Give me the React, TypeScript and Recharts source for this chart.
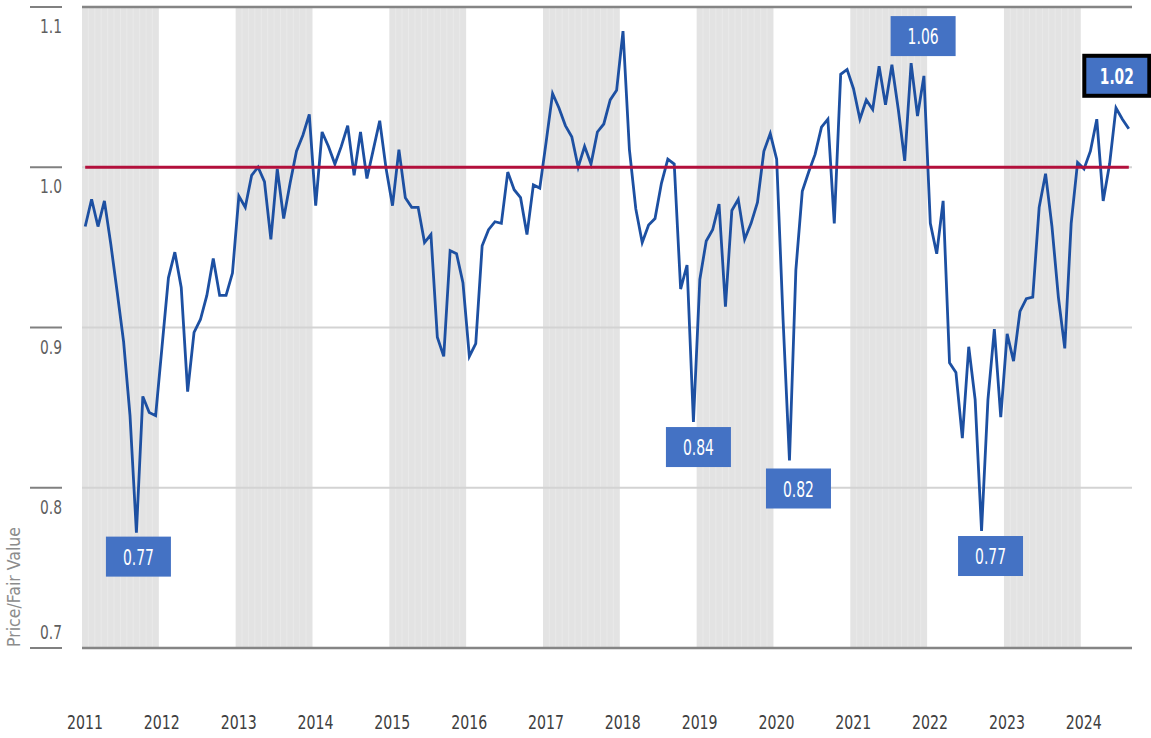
import {
  LineChart,
  Line,
  XAxis,
  YAxis,
  ReferenceArea,
  ReferenceLine,
  ReferenceDot,
} from "recharts";

const years = [2011, 2012, 2013, 2014, 2015, 2016, 2017, 2018, 2019, 2020, 2021, 2022, 2023, 2024];
const shadedYears = [2011, 2013, 2015, 2017, 2019, 2021, 2023];
const yTicks = [0.7, 0.8, 0.9, 1.0, 1.1];

// monthly price / fair value, Jan 2011 .. Aug 2024
const priceToFair = [
  0.963, 0.98, 0.963, 0.979, 0.952, 0.922, 0.891, 0.845, 0.772, 0.857, 0.847, 0.845,
  0.888, 0.931, 0.947, 0.925, 0.86, 0.897, 0.905, 0.92, 0.943, 0.92, 0.92, 0.934,
  0.982, 0.975, 0.995, 1.0, 0.991, 0.955, 0.999, 0.968, 0.99, 1.01, 1.02, 1.033,
  0.976, 1.022, 1.013, 1.002, 1.013, 1.026, 0.995, 1.022, 0.993, 1.011, 1.029, 0.999,
  0.976, 1.011, 0.981, 0.975, 0.975, 0.953, 0.958, 0.894, 0.882, 0.948, 0.946, 0.928,
  0.882, 0.89, 0.951, 0.961, 0.966, 0.965, 0.997, 0.986, 0.981, 0.958, 0.989, 0.987,
  1.016, 1.046, 1.037, 1.026, 1.019, 1.0, 1.013, 1.002, 1.022, 1.027, 1.042, 1.048,
  1.085, 1.011, 0.974, 0.953, 0.964, 0.968, 0.99, 1.005, 1.002, 0.924, 0.939, 0.841,
  0.93, 0.954, 0.961, 0.977, 0.913, 0.973, 0.98, 0.955, 0.965, 0.978, 1.01, 1.021,
  1.005, 0.905, 0.817, 0.936, 0.985, 0.997, 1.008, 1.025, 1.03, 0.965, 1.058, 1.061,
  1.049, 1.03, 1.042, 1.036, 1.063, 1.039, 1.064, 1.036, 1.004, 1.065, 1.032, 1.057,
  0.965, 0.946, 0.979, 0.878, 0.872, 0.831, 0.888, 0.855, 0.773, 0.855, 0.899, 0.844,
  0.896, 0.879, 0.91, 0.918, 0.919, 0.975, 0.996, 0.963, 0.919, 0.887, 0.965, 1.003,
  0.999, 1.01, 1.03, 0.979, 1.002, 1.037, 1.03, 1.024,
];

const callouts = [
  { index: 8, label: "0.77" },
  { index: 95, label: "0.84" },
  { index: 110, label: "0.82" },
  { index: 129, label: "1.06" },
  { index: 140, label: "0.77" },
  { index: 163, label: "1.02" },
];

// box placement relative to the point (centre x offset, top y offset)
const calloutPlacement: Record<number, { dx: number; dy: number; highlight?: boolean }> = {
  8: { dx: 2, dy: 4 },
  95: { dx: 5, dy: 5 },
  110: { dx: 9, dy: 8 },
  129: { dx: 12, dy: -47 },
  140: { dx: 9, dy: 5 },
  163: { dx: -12, dy: -73, highlight: true },
};

// no condensed face is installed, so text is squeezed with textLength
const FONT = "'DejaVu Sans', sans-serif";

const data = priceToFair.map((value, i) => ({ m: i + 0.5, value }));
const lastM = data[data.length - 1].m;

function YearTick(props: any) {
  const { x, y, payload } = props;
  const label = years[Math.round(payload.value / 12)];
  return (
    <text
      x={x + 3}
      y={y + 74}
      textAnchor="middle"
      dominantBaseline="central"
      fill="#404040"
      fontSize={20}
      fontFamily={FONT}
      textLength={36}
      lengthAdjust="spacingAndGlyphs"
    >
      {label}
    </text>
  );
}

function ValueTick(props: any) {
  const { x, y, payload } = props;
  const isBottom = payload.value === yTicks[0];
  return (
    <g>
      <line x1={x - 52} x2={x - 20} y1={y} y2={y} stroke="#808080" strokeWidth={2} />
      <text
        x={x - 20}
        y={isBottom ? y - 9 : y + 26}
        textAnchor="end"
        fill="#5f5f5f"
        fontSize={20}
        fontFamily={FONT}
        textLength={22}
        lengthAdjust="spacingAndGlyphs"
      >
        {payload.value.toFixed(1)}
      </text>
    </g>
  );
}

function CalloutBox(props: any) {
  const { cx, cy, label, dx, dy, highlight } = props;
  const w = 65;
  const h = 40;
  const left = cx + dx - w / 2;
  const top = cy + dy;
  return (
    <g>
      <rect
        x={left}
        y={top}
        width={w}
        height={h}
        fill="#4472c4"
        stroke={highlight ? "#000" : "none"}
        strokeWidth={highlight ? 4 : 0}
      />
      <text
        x={left + w / 2}
        y={top + h / 2 + 1}
        textAnchor="middle"
        dominantBaseline="central"
        fill="#fff"
        fontSize={21}
        fontWeight={highlight ? 700 : 400}
        fontFamily={FONT}
        textLength={highlight ? 34 : 31}
        lengthAdjust="spacingAndGlyphs"
      >
        {label}
      </text>
    </g>
  );
}

export default function App() {
  const stripes: number[] = [];
  shadedYears.forEach((yr) => {
    const start = (yr - years[0]) * 12;
    for (let j = 1; j < 12; j++) stripes.push(start + j);
  });

  return (
    <div style={{ position: "absolute", left: 0, top: 0, width: 1151, height: 738, background: "#fff" }}>
      <LineChart
        width={1151}
        height={738}
        data={data}
        margin={{ top: 7, right: 19, left: 0, bottom: 0 }}
      >
        <XAxis
          dataKey="m"
          type="number"
          domain={[0, 164]}
          ticks={years.map((_, k) => k * 12)}
          tick={<YearTick />}
          axisLine={false}
          tickLine={false}
          tickSize={0}
          tickMargin={0}
          height={90}
          interval={0}
        />
        <YAxis
          type="number"
          domain={[0.7, 1.1]}
          ticks={yTicks}
          tick={<ValueTick />}
          axisLine={false}
          tickLine={false}
          tickSize={0}
          tickMargin={0}
          width={82}
          interval={0}
          label={{
            content: () => (
              <text
                x={13}
                y={647}
                transform="rotate(-90 13 647)"
                textAnchor="start"
                dominantBaseline="central"
                fill="#8c8c8c"
                fontSize={18}
                fontFamily={FONT}
                textLength={120}
                lengthAdjust="spacingAndGlyphs"
              >
                Price/Fair Value
              </text>
            ),
          }}
        />

        {shadedYears.map((yr) => (
          <ReferenceArea
            key={yr}
            x1={(yr - years[0]) * 12}
            x2={(yr - years[0] + 1) * 12}
            fill="#e3e3e3"
            fillOpacity={1}
            stroke="none"
          />
        ))}
        {stripes.map((m) => (
          <ReferenceLine key={`s${m}`} x={m} stroke="#e9e9e9" strokeWidth={1} />
        ))}

        {yTicks.slice(1, -1).map((v) => (
          <ReferenceLine key={`g${v}`} y={v} stroke="#d3d3d3" strokeWidth={2} />
        ))}
        <ReferenceLine y={1.1} stroke="#858585" strokeWidth={2.5} />
        <ReferenceLine y={0.7} stroke="#858585" strokeWidth={2.5} />

        <Line
          type="linear"
          dataKey="value"
          stroke="#1d50a2"
          strokeWidth={2.8}
          dot={false}
          activeDot={false}
          isAnimationActive={false}
        />

        <ReferenceLine
          segment={[
            { x: data[0].m, y: 1 },
            { x: lastM, y: 1 },
          ]}
          stroke="#b3103c"
          strokeWidth={3}
        />

        {callouts.map((c) => {
          const p = calloutPlacement[c.index];
          return (
            <ReferenceDot
              key={c.index}
              x={data[c.index].m}
              y={priceToFair[c.index]}
              ifOverflow="visible"
              shape={(props: any) => (
                <CalloutBox {...props} label={c.label} dx={p.dx} dy={p.dy} highlight={p.highlight} />
              )}
            />
          );
        })}
      </LineChart>
    </div>
  );
}
